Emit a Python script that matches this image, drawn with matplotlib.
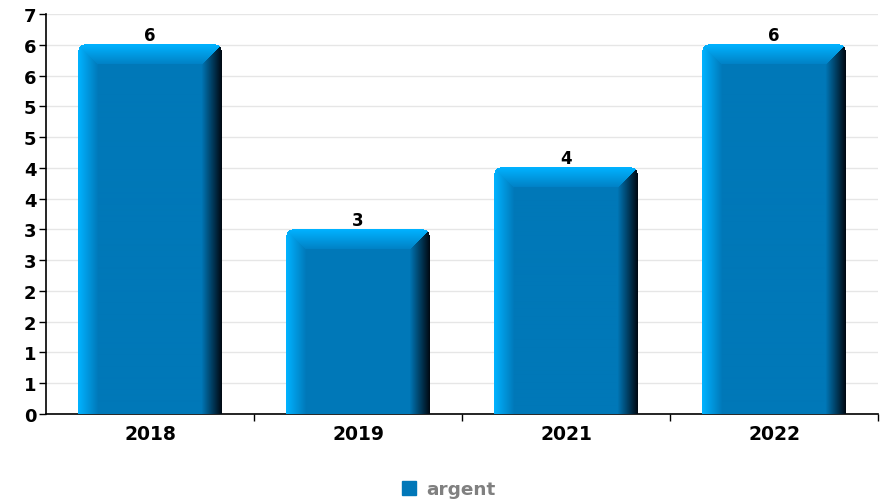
import numpy as np
import matplotlib
matplotlib.use('Agg')
import matplotlib.pyplot as plt
from matplotlib.lines import Line2D

# data
years = ['2018', '2019', '2021', '2022']
argent = [6, 3, 4, 6]
y_ticks = [0, 0.5, 1, 1.5, 2, 2.5, 3, 3.5, 4, 4.5, 5, 5.5, 6, 6.5]
y_labels = ['0', '1', '1', '2', '2', '3', '3', '4', '4', '5', '5', '6', '6', '7']

FACE = np.array([0, 120, 184]) / 255
LIGHT = np.array([0, 178, 255]) / 255
DARK = np.array([0, 10, 20]) / 255
TOP_IN = np.array([0, 128, 196]) / 255


def bar_image(w, h, b=20, r=6):
    # bevelled bar texture, rows from top to bottom
    jj, ii = np.meshgrid(np.arange(w), np.arange(h))
    dl = jj.astype(float)
    dr = (w - 1 - jj).astype(float)
    dt = ii.astype(float)
    img = np.zeros((h, w, 4))
    img[..., :3] = FACE
    img[..., 3] = 1
    # left light edge
    m = dl < b
    t = (dl / b)[..., None]
    img[..., :3] = np.where(m[..., None], LIGHT * (1 - t) + FACE * t, img[..., :3])
    # right dark edge
    m = dr < b
    t = (dr / b)[..., None]
    img[..., :3] = np.where(m[..., None], DARK * (1 - t) + FACE * t, img[..., :3])
    # top bevel
    m = (dt < b) & (dt <= dl) & (dt <= dr)
    t = (dt / b)[..., None]
    img[..., :3] = np.where(m[..., None], LIGHT * (1 - t) + TOP_IN * t, img[..., :3])
    # rounded top corners
    for cx in (r, w - 1 - r):
        d = np.hypot(jj - cx, ii - r)
        side = (jj < r) if cx == r else (jj > w - 1 - r)
        img[(ii < r) & side & (d > r), 3] = 0
    return img


fig = plt.figure(figsize=(8.88, 5.02), dpi=100)
ax = fig.add_axes([46 / 888, 87 / 502, 832 / 888, 400 / 502])
ax.set_xlim(-0.5, len(years) - 0.5)
ax.set_ylim(0, 6.5)

x = np.arange(len(years))
width = 0.692

for xi, v in zip(x, argent):
    p0 = ax.transData.transform((xi - width / 2, 0))
    p1 = ax.transData.transform((xi + width / 2, v))
    wpx = int(round(p1[0] - p0[0]))
    hpx = int(round(p1[1] - p0[1]))
    ax.imshow(bar_image(wpx, hpx), extent=(xi - width / 2, xi + width / 2, 0, v),
              aspect='auto', interpolation='bilinear', zorder=3)
    ax.annotate(str(v), (xi, v), xytext=(0, 3.5), textcoords='offset points',
                ha='center', va='baseline', fontsize=12, fontweight='bold', zorder=4)

ax.set_xlim(-0.5, len(years) - 0.5)
ax.set_ylim(0, 6.5)

ax.set_yticks(y_ticks)
ax.set_yticklabels(y_labels)
ax.set_xticks(x)
ax.set_xticklabels(years)
ax.set_xticks(np.arange(0.5, len(years), 1), minor=True)
ax.tick_params(axis='x', which='major', length=0, pad=7.5, labelsize=13.5)
ax.tick_params(axis='x', which='minor', length=5, width=1, direction='out')
ax.tick_params(axis='y', length=5, width=1, pad=2, labelsize=13)
for lab in ax.get_xticklabels() + ax.get_yticklabels():
    lab.set_fontweight('bold')

ax.grid(axis='y', color='#e6e6e6', linewidth=1, zorder=0)
ax.set_axisbelow(True)
for s in ['top', 'right']:
    ax.spines[s].set_visible(False)
ax.spines['left'].set_linewidth(1.2)
ax.spines['bottom'].set_linewidth(1.2)

h = Line2D([], [], marker='s', linestyle='none', color='#0077b8', markersize=9.4)
fig.legend([h], ['argent'], loc='center', bbox_to_anchor=(447 / 888, 11.5 / 502),
           frameon=False, handletextpad=0.35, handlelength=1.2,
           prop={'weight': 'bold', 'size': 13.3}, labelcolor='#808080')

fig.savefig('out.png', dpi=100)
